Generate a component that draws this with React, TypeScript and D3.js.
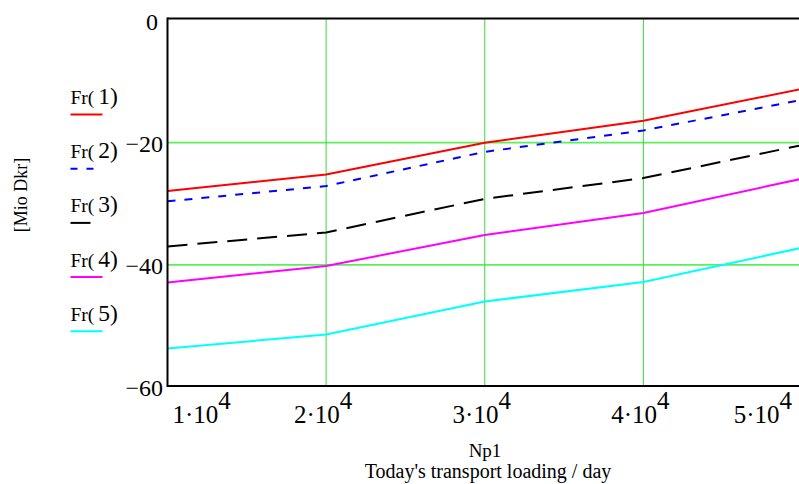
import React from "react";
import * as d3 from "d3";

const xValues = [10000, 20000, 30000, 40000, 50000];
const fr1 = [-27.9, -25.2, -20.0, -16.4, -11.2];
const fr2 = [-29.6, -27.1, -21.5, -18.0, -13.0];
const fr3 = [-37.0, -34.7, -29.2, -25.8, -20.4];
const fr4 = [-42.9, -40.2, -35.1, -31.5, -25.9];
const fr5 = [-53.7, -51.4, -46.0, -42.8, -37.2];
const seriesNames = ["1", "2", "3", "4", "5"];
const yTicks = [0, -20, -40, -60];
const yGrid = [-20, -40];
const xGrid = [20000, 30000, 40000];
const xTickMant = ["1", "2", "3", "4", "5"];

const colors = ["#ff0000", "#0000ff", "#000000", "#ff00ff", "#00ffff"];
const dashes = ["none", "8,9", "20,10", "none", "none"];
const legendLen = [32, 27, 20, 32, 32];

export default function App() {
  const W = 799, H = 484;
  const x = d3.scaleLinear().domain([10000, 50000]).range([167.5, 802]);
  const y = d3.scaleLinear().domain([-60, 0]).range([387, 20.5]);
  const all = [fr1, fr2, fr3, fr4, fr5];
  const line = d3
    .line<number>()
    .x((_, i) => x(xValues[i]))
    .y((d) => y(d));
  const serif = "'Liberation Serif', 'Times New Roman', serif";
  const top = y(0) - 2;
  const bottom = y(-60) - 1;
  const left = x(10000);

  return (
    <svg
      width={W}
      height={H}
      style={{ position: "absolute", left: 0, top: 0, background: "#fff" }}
      fontFamily={serif}
    >
      <defs>
        <clipPath id="plot">
          <rect x={left} y={top} width={W - left} height={bottom - top} />
        </clipPath>
      </defs>
      {yGrid.map((v) => (
        <line key={"yg" + v} x1={left} x2={W} y1={y(v)} y2={y(v)} stroke="#5af05a" strokeWidth={1.6} />
      ))}
      {xGrid.map((v) => (
        <line key={"xg" + v} x1={x(v)} x2={x(v)} y1={top} y2={bottom} stroke="#38d838" strokeWidth={1} />
      ))}
      <g clipPath="url(#plot)">
        {all.map((s, i) => (
          <path
            key={i}
            d={line(s) || ""}
            fill="none"
            stroke={colors[i]}
            strokeWidth={2}
            strokeDasharray={dashes[i]}
          />
        ))}
      </g>
      <line x1={left} x2={left} y1={top - 1} y2={bottom + 1} stroke="#000" strokeWidth={2} />
      <line x1={left} x2={W} y1={top} y2={top} stroke="#000" strokeWidth={2} />
      <line x1={left} x2={W} y1={bottom} y2={bottom} stroke="#000" strokeWidth={2} />
      {yTicks.map((v) => (
        <text
          key={"yt" + v}
          x={v === 0 ? 158 : 163}
          y={y(v) + 9}
          textAnchor="end"
          fontSize={24}
          fill="#000"
        >
          {v === 0 ? "0" : "\u2212" + Math.abs(v)}
        </text>
      ))}
      {xValues.map((v, i) => {
        const last = i === xValues.length - 1;
        const first = i === 0;
        const anchor = first ? "start" : last ? "end" : "middle";
        const px = first ? x(v) + 5 : last ? x(v) - 10 : x(v) - 3;
        return (
          <text key={"xt" + v} x={px} y={423} textAnchor={anchor} fontSize={25} fill="#000">
            {xTickMant[i] + "\u00B710"}
            <tspan dy={-14}>4</tspan>
          </text>
        );
      })}
      <text x={485} y={457} textAnchor="middle" fontSize={19} fill="#000">
        Np1
      </text>
      <text x={488} y={478} textAnchor="middle" fontSize={20} fill="#000">
        Today's transport loading / day
      </text>
      <text
        transform="translate(27,195) rotate(-90)"
        textAnchor="middle"
        fontSize={18}
        fill="#000"
      >
        [Mio Dkr]
      </text>
      {seriesNames.map((n, i) => {
        const ly = 114.5 + i * 54.2;
        return (
          <g key={"lg" + n}>
            <text x={70.5} y={ly - 10.5} fill="#000">
              <tspan fontSize={19.5}>Fr(</tspan>
              <tspan fontSize={23.5} dx={4}>{n + ")"}</tspan>
            </text>
            <line
              x1={70.5}
              x2={70.5 + legendLen[i]}
              y1={ly}
              y2={ly}
              stroke={colors[i]}
              strokeWidth={2}
              strokeDasharray={i === 1 ? "7,9" : "none"}
            />
          </g>
        );
      })}
    </svg>
  );
}
